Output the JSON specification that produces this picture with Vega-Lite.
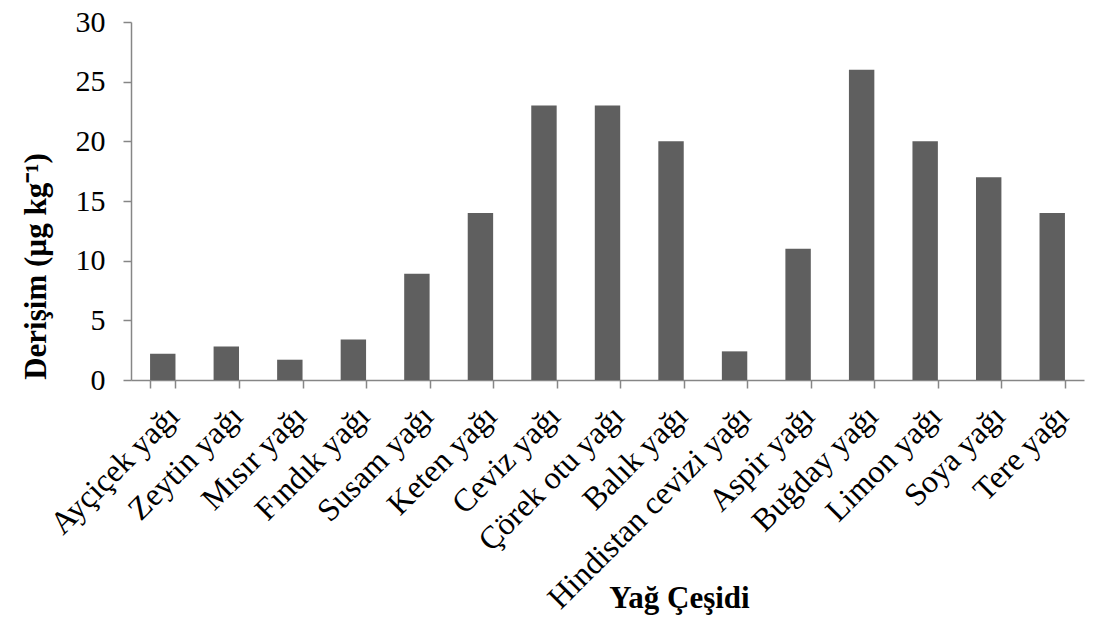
{
  "$schema": "https://vega.github.io/schema/vega-lite/v6.json",
  "width": 953,
  "height": 358,
  "autosize": "none",
  "padding": {"left": 131, "top": 22, "right": 17, "bottom": 243},
  "background": "white",
  "config": {
    "view": {"stroke": null},
    "font": "Liberation Serif",
    "axis": {"grid": false, "domainColor": "#868686", "tickColor": "#868686", "domainWidth": 1.5, "tickWidth": 1.5, "labelColor": "black", "titleColor": "black", "labelFont": "Liberation Serif", "titleFont": "Liberation Serif"}
  },
  "data": {
    "values": [
      {"yag": "Ayçiçek yağı", "derisim": 2.2},
      {"yag": "Zeytin yağı", "derisim": 2.8},
      {"yag": "Mısır yağı", "derisim": 1.7},
      {"yag": "Fındık yağı", "derisim": 3.4},
      {"yag": "Susam yağı", "derisim": 8.9},
      {"yag": "Keten yağı", "derisim": 14},
      {"yag": "Ceviz yağı", "derisim": 23},
      {"yag": "Çörek otu yağı", "derisim": 23},
      {"yag": "Balık yağı", "derisim": 20},
      {"yag": "Hindistan cevizi yağı", "derisim": 2.4},
      {"yag": "Aspir yağı", "derisim": 11},
      {"yag": "Buğday yağı", "derisim": 26},
      {"yag": "Limon yağı", "derisim": 20},
      {"yag": "Soya yağı", "derisim": 17},
      {"yag": "Tere yağı", "derisim": 14}
    ]
  },
  "mark": {"type": "bar", "color": "#5f5f5f"},
  "encoding": {
    "x": {
      "field": "yag",
      "type": "nominal",
      "sort": null,
      "scale": {"paddingInner": 0.6, "paddingOuter": 0.3},
      "axis": {
        "title": "Yağ Çeşidi",
        "titleFontSize": 31,
        "titleFontWeight": "bold",
        "titleX": 548,
        "titleY": 218,
        "titleBaseline": "middle",
        "titleAlign": "center",
        "labelAngle": -45,
        "labelFontSize": 32,
        "labelPadding": 12,
        "tickBand": "extent",
        "tickSize": 8,
        "labelLimit": 400
      }
    },
    "y": {
      "field": "derisim",
      "type": "quantitative",
      "scale": {"domain": [0, 30]},
      "axis": {
        "title": "Derişim (µg kg⁻¹)",
        "titleFontSize": 31,
        "titleFontWeight": "bold",
        "titleX": -95,
        "titleY": 244,
        "titleAngle": -90,
        "titleBaseline": "middle",
        "titleAlign": "center",
        "values": [0, 5, 10, 15, 20, 25, 30],
        "labelFontSize": 30,
        "labelPadding": 18,
        "tickSize": 8
      }
    }
  }
}
